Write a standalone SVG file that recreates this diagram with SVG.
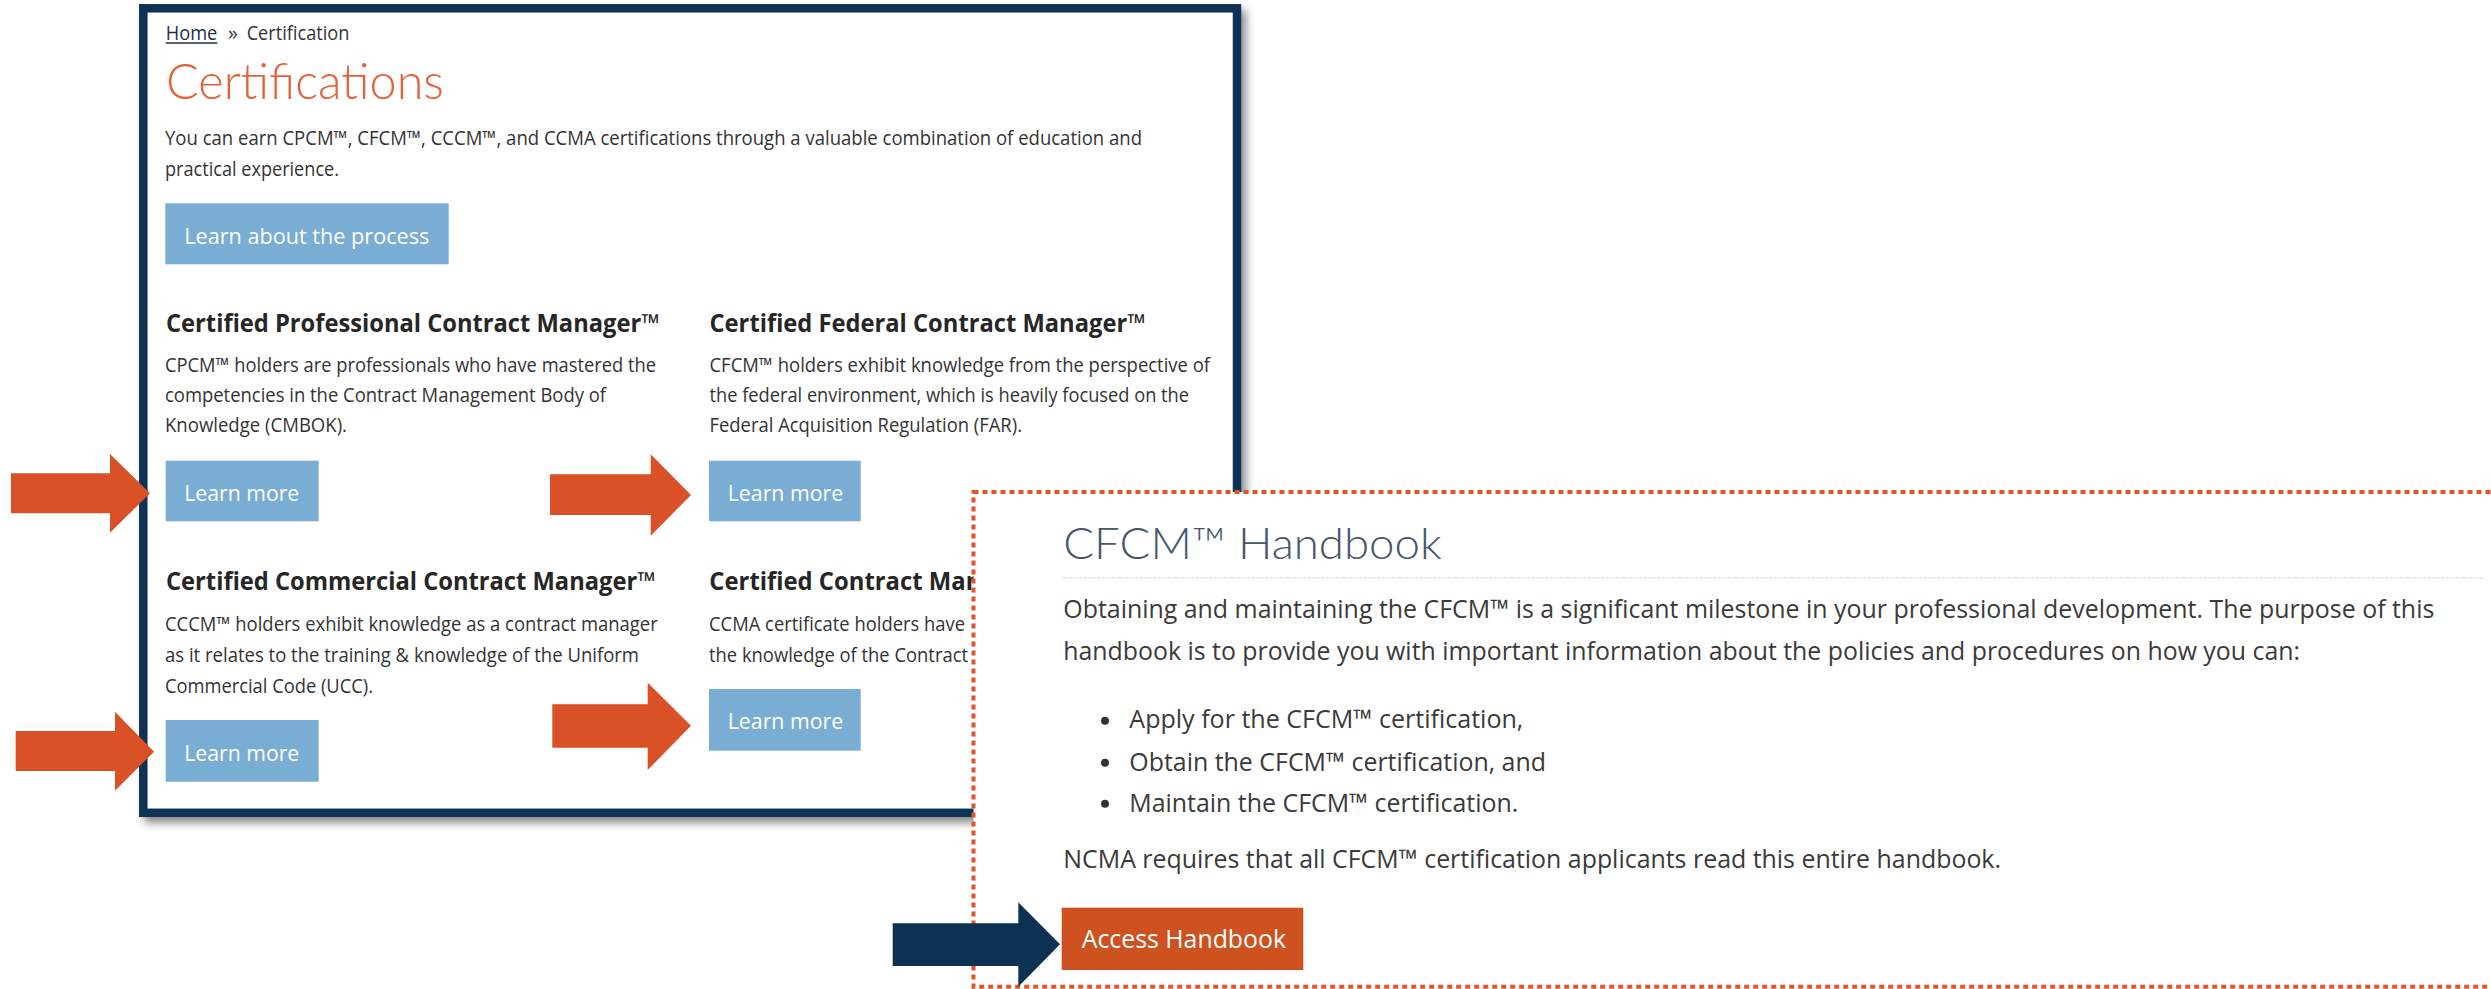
<svg xmlns="http://www.w3.org/2000/svg" width="2491" height="989" viewBox="0 0 2491 989">
<defs>
<filter id="shadow" x="-5%" y="-5%" width="112%" height="112%">
<feDropShadow dx="5" dy="6" stdDeviation="4" flood-color="#000" flood-opacity="0.45"/>
</filter>
</defs>
<style>
.body{font-family:"Open Sans","Noto Sans","Liberation Sans",sans-serif;font-size:20px;fill:#333333}
.hb{font-family:"Open Sans","Noto Sans","Liberation Sans",sans-serif;font-size:26px;fill:#3a3a3a}
.head{font-family:"Open Sans","Noto Sans","Liberation Sans",sans-serif;font-size:25px;font-weight:700;fill:#262626}
.btn{fill:#7aadd4}
.btntxt{font-family:"Open Sans","Noto Sans","Liberation Sans",sans-serif;font-size:22px;fill:#ffffff}
.light{font-family:"Lato","Open Sans","Liberation Sans",sans-serif;font-weight:300}
.arrow{fill:#da5127}
.white{fill:#ffffff}
.link{fill:#1f2f4a}
</style>
<rect width="2491" height="989" fill="#ffffff"/>

<g id="certifications-page">
<rect x="143.3" y="8.3" width="1093.7" height="804.5" fill="#ffffff" stroke="#0e3354" stroke-width="8.5" filter="url(#shadow)"/>
<text x="165.7" y="40" class="body link" font-size="18.5" textLength="51.6" lengthAdjust="spacingAndGlyphs">Home</text>
<line x1="165.7" y1="43" x2="217.3" y2="43" stroke="#1f2f4a" stroke-width="1.3"/>
<text x="228" y="40" class="body" font-size="18.5">»</text>
<text x="246.7" y="40" class="body" font-size="18.5" textLength="102.6" lengthAdjust="spacingAndGlyphs">Certification</text>
<text x="166" y="99" class="light" font-size="50" fill="#e5613a" textLength="278" lengthAdjust="spacingAndGlyphs">Certifications</text>
<text x="165" y="145" class="body" textLength="977" lengthAdjust="spacingAndGlyphs">You can earn CPCM™, CFCM™, CCCM™, and CCMA certifications through a valuable combination of education and</text>
<text x="165" y="175.7" class="body" textLength="174" lengthAdjust="spacingAndGlyphs">practical experience.</text>
<g id="btn-process">
<rect x="165.3" y="203.3" width="283.4" height="61" class="btn"/>
<text x="184.3" y="243.5" class="btntxt" textLength="245" lengthAdjust="spacingAndGlyphs">Learn about the process</text>
</g>
</g>

<g id="cpcm">
<text x="166" y="332" class="head" textLength="493.5" lengthAdjust="spacingAndGlyphs">Certified Professional Contract Manager™</text>
<text x="165" y="372" class="body" textLength="491" lengthAdjust="spacingAndGlyphs">CPCM™ holders are professionals who have mastered the</text>
<text x="165" y="402" class="body" textLength="441" lengthAdjust="spacingAndGlyphs">competencies in the Contract Management Body of</text>
<text x="165" y="432" class="body" textLength="182" lengthAdjust="spacingAndGlyphs">Knowledge (CMBOK).</text>
<rect x="165.7" y="460.7" width="153" height="60.6" class="btn"/>
<text x="184.3" y="501" class="btntxt" textLength="115" lengthAdjust="spacingAndGlyphs">Learn more</text>
</g>

<g id="cfcm">
<text x="709.5" y="332" class="head" textLength="436" lengthAdjust="spacingAndGlyphs">Certified Federal Contract Manager™</text>
<text x="709.5" y="372" class="body" textLength="500.5" lengthAdjust="spacingAndGlyphs">CFCM™ holders exhibit knowledge from the perspective of</text>
<text x="709.5" y="402" class="body" textLength="479.5" lengthAdjust="spacingAndGlyphs">the federal environment, which is heavily focused on the</text>
<text x="709.5" y="432" class="body" textLength="312.5" lengthAdjust="spacingAndGlyphs">Federal Acquisition Regulation (FAR).</text>
<rect x="709" y="460.7" width="151.7" height="60.6" class="btn"/>
<text x="727.7" y="501" class="btntxt" textLength="115.6" lengthAdjust="spacingAndGlyphs">Learn more</text>
</g>

<g id="cccm">
<text x="166" y="590" class="head" textLength="489.5" lengthAdjust="spacingAndGlyphs">Certified Commercial Contract Manager™</text>
<text x="165" y="631" class="body" textLength="492.7" lengthAdjust="spacingAndGlyphs">CCCM™ holders exhibit knowledge as a contract manager</text>
<text x="165" y="661.7" class="body" textLength="474" lengthAdjust="spacingAndGlyphs">as it relates to the training &amp; knowledge of the Uniform</text>
<text x="165" y="693" class="body" textLength="208" lengthAdjust="spacingAndGlyphs">Commercial Code (UCC).</text>
<rect x="165.7" y="720" width="153" height="61.7" class="btn"/>
<text x="184.3" y="760.7" class="btntxt" textLength="115" lengthAdjust="spacingAndGlyphs">Learn more</text>
</g>

<g id="ccma">
<text x="709.3" y="590" class="head" textLength="272" lengthAdjust="spacingAndGlyphs">Certified Contract Man</text>
<text x="709" y="631" class="body" textLength="256" lengthAdjust="spacingAndGlyphs">CCMA certificate holders have</text>
<text x="709" y="661.7" class="body" textLength="259" lengthAdjust="spacingAndGlyphs">the knowledge of the Contract</text>
<rect x="709" y="689" width="151.7" height="61.7" class="btn"/>
<text x="727.7" y="729.3" class="btntxt" textLength="115.6" lengthAdjust="spacingAndGlyphs">Learn more</text>
</g>

<g id="cfcm-handbook">
<rect x="973.5" y="492" width="1540" height="494.7" fill="#ffffff" stroke="#e0552a" stroke-width="4" stroke-dasharray="5 4"/>
<text x="1063.3" y="559" class="light" font-size="44" fill="#46566c" textLength="378.4" lengthAdjust="spacingAndGlyphs">CFCM™ Handbook</text>
<line x1="1063" y1="577.7" x2="2482.7" y2="577.7" stroke="#dcdcdc" stroke-width="1.5" stroke-dasharray="2 1.5"/>
<text x="1063.3" y="618" class="hb" textLength="1371" lengthAdjust="spacingAndGlyphs">Obtaining and maintaining the CFCM™ is a significant milestone in your professional development. The purpose of this</text>
<text x="1063.3" y="660" class="hb" textLength="1236.7" lengthAdjust="spacingAndGlyphs">handbook is to provide you with important information about the policies and procedures on how you can:</text>
<circle cx="1105" cy="720.7" r="4" fill="#333333"/>
<text x="1129.3" y="728.3" class="hb" textLength="394" lengthAdjust="spacingAndGlyphs">Apply for the CFCM™ certification,</text>
<circle cx="1105" cy="762.7" r="4" fill="#333333"/>
<text x="1129.3" y="770.7" class="hb" textLength="416.7" lengthAdjust="spacingAndGlyphs">Obtain the CFCM™ certification, and</text>
<circle cx="1105" cy="803.7" r="4" fill="#333333"/>
<text x="1129.3" y="811.7" class="hb" textLength="389" lengthAdjust="spacingAndGlyphs">Maintain the CFCM™ certification.</text>
<text x="1063.3" y="868.3" class="hb" textLength="937.7" lengthAdjust="spacingAndGlyphs">NCMA requires that all CFCM™ certification applicants read this entire handbook.</text>
<rect x="1061.7" y="907.7" width="241.6" height="62.3" fill="#cd5220"/>
<text x="1081.7" y="948.3" class="hb white" textLength="204.3" lengthAdjust="spacingAndGlyphs">Access Handbook</text>
</g>

<g id="arrows">
<polygon class="arrow" points="11,473.3 110,473.3 110,454 150,493.3 110,532.7 110,513.3 11,513.3"/>
<polygon class="arrow" points="550,474.3 650.7,474.3 650.7,454.3 691,495 650.7,535.7 650.7,515 550,515"/>
<polygon class="arrow" points="15.7,731 115,731 115,711.7 154,751.7 115,790.7 115,771 15.7,771"/>
<polygon class="arrow" points="552.3,704.3 647.7,704.3 647.7,682.7 691,725.7 647.7,770 647.7,747.7 552.3,747.7"/>
<polygon fill="#0d3152" points="892.7,923.3 1018.3,923.3 1018.3,902.3 1060,944.3 1018.3,986.7 1018.3,966 892.7,966"/>
</g>
</svg>
